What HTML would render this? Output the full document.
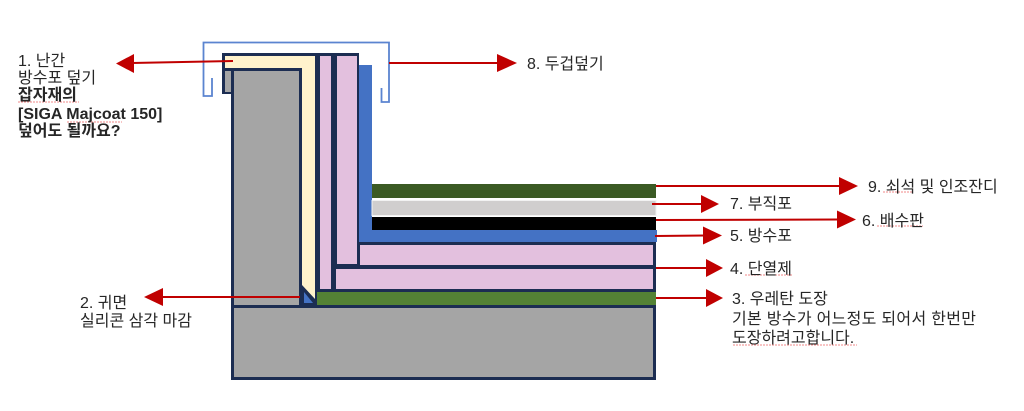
<!DOCTYPE html>
<html><head><meta charset="utf-8"><style>
html,body{margin:0;padding:0;background:#fff;}
svg{display:block;}
.t{font-family:"Liberation Sans","Noto Sans CJK KR",sans-serif;font-size:16px;fill:#262626;}
.b{font-family:"Liberation Sans","Noto Sans CJK KR",sans-serif;font-size:16px;font-weight:bold;fill:#262626;}
</style></head><body>
<svg width="1024" height="411" viewBox="0 0 1024 411" xmlns="http://www.w3.org/2000/svg">
<!-- bracket (coping) -->
<path d="M212,78 V96 H203.5 V42.5 H389 V102 H381.5 V88" fill="none" stroke="#5b84d0" stroke-width="1.8"/>

<!-- navy silhouette -->
<path d="M222,53 H359 V242 H656 V380 H231 V94 H222 Z" fill="#1c2d52"/>
<!-- cream L -->
<path d="M225,56 H315 V299 L302,285 V68 H225 Z" fill="#fff2cc"/>
<!-- small gray piece -->
<rect x="225" y="71" width="6" height="21" fill="#a5a5a5"/>
<!-- gray column -->
<rect x="234" y="71" width="65" height="234" fill="#a5a5a5"/>
<!-- base -->
<rect x="234" y="308" width="419" height="69" fill="#a5a5a5"/>
<!-- pink verticals -->
<rect x="320" y="56" width="11" height="233" fill="#e3c0de"/>
<rect x="337" y="56" width="20" height="208" fill="#e3c0de"/>
<!-- blue membrane -->
<rect x="359" y="65" width="13" height="177" fill="#4472c4"/>
<rect x="359" y="230" width="298" height="12" fill="#4472c4"/>
<!-- top layers -->
<rect x="372" y="184" width="284" height="14" fill="#3b5a24"/>
<rect x="372" y="200.5" width="284" height="15" fill="#d0cece" stroke="#f2f2f2" stroke-width="1"/>
<rect x="372" y="217" width="284" height="13" fill="#000"/>
<!-- pink horizontals -->
<rect x="360" y="245" width="293" height="20" fill="#e3c0de"/>
<rect x="336" y="269" width="317" height="20" fill="#e3c0de"/>
<!-- green coating -->
<rect x="317" y="292" width="339" height="13" fill="#548235"/>
<!-- blue triangle -->
<polygon points="304,292 304,303 313,303" fill="#4472c4"/>

<!-- arrows -->
<g stroke="#c00000" stroke-width="2" fill="none">
<line x1="233" y1="61" x2="132" y2="63"/>
<line x1="300" y1="297" x2="162" y2="297"/>
<line x1="389" y1="63" x2="499" y2="63"/>
<line x1="656" y1="186" x2="841" y2="186"/>
<line x1="652" y1="204" x2="703" y2="204"/>
<line x1="656" y1="220" x2="839" y2="219.5"/>
<line x1="655" y1="236" x2="705" y2="235.5"/>
<line x1="656" y1="268" x2="708" y2="268"/>
<line x1="656" y1="298" x2="708" y2="298"/>
</g>
<g fill="#c00000">
<polygon points="116,63.5 134,54 134,73"/>
<polygon points="144,297 163,288 163,306"/>
<polygon points="517,63 497,54 497,72"/>
<polygon points="858,186 839,177 839,195"/>
<polygon points="719,204 701,195 701,213"/>
<polygon points="856,219.5 837,210.5 837,228.5"/>
<polygon points="722,235.5 703,226.5 703,244.5"/>
<polygon points="723,268 706,259 706,277"/>
<polygon points="723,298 706,289 706,307"/>
</g>

<!-- spellcheck squiggles -->
<g stroke="#f08a8a" stroke-width="1" fill="none" stroke-dasharray="2,1">
<line x1="18" y1="102" x2="79" y2="102"/>
<line x1="67" y1="122" x2="122" y2="122"/>
<line x1="883" y1="192" x2="913" y2="192"/>
<line x1="877" y1="226" x2="923" y2="226"/>
<line x1="745" y1="275" x2="792" y2="275"/>
<line x1="733" y1="345" x2="857" y2="345"/>
</g>

<!-- texts -->
<text class="t" x="18" y="66">1. 난간</text>
<text class="t" x="18" y="83">방수포 덮기</text>
<text class="b" x="18" y="100">잡자재의</text>
<text class="b" x="18" y="119">[SIGA Majcoat 150]</text>
<text class="b" x="18" y="136">덮어도 될까요?</text>

<text class="t" x="80" y="308">2. 귀면</text>
<text class="t" x="80" y="326">실리콘 삼각 마감</text>

<text class="t" x="527" y="69">8. 두겁덮기</text>
<text class="t" x="868" y="192">9. 쇠석 및 인조잔디</text>
<text class="t" x="730" y="209">7. 부직포</text>
<text class="t" x="862" y="226">6. 배수판</text>
<text class="t" x="730" y="241">5. 방수포</text>
<text class="t" x="730" y="274">4. 단열제</text>
<text class="t" x="732" y="304">3. 우레탄 도장</text>
<text class="t" x="732" y="324" style="letter-spacing:0.3px">기본 방수가 어느정도 되어서 한번만</text>
<text class="t" x="732" y="343">도장하려고합니다.</text>
</svg>
</body></html>
